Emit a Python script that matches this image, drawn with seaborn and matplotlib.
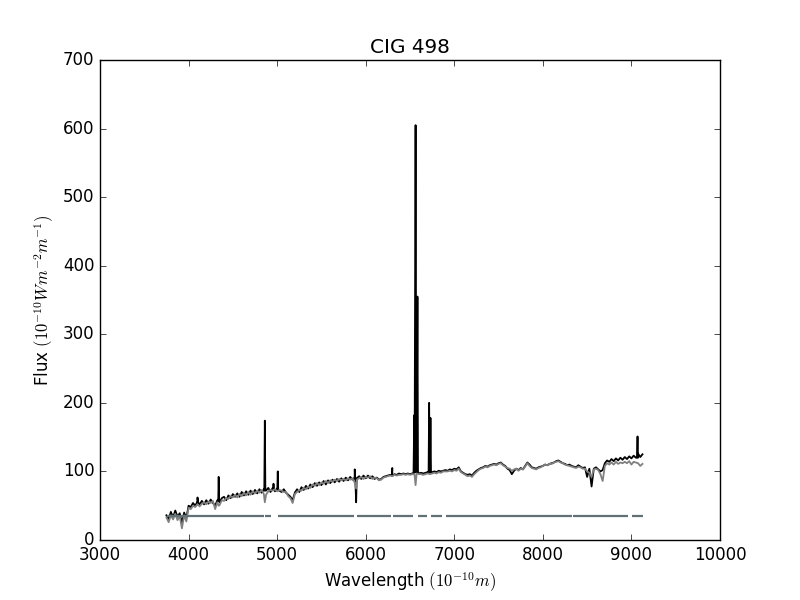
import numpy as np
import pandas as pd
import matplotlib
matplotlib.use('Agg')
import matplotlib.pyplot as plt
import seaborn as sns

plt.style.use('classic')

# continuum grid, 25 A steps from 3750 to 9125
grid_wave = np.arange(3750, 9150, 25)

obs_flux = [
    36, 30, 41, 33, 43, 34, 39, 25, 40, 32, 50, 48, 54, 50, 55, 52,
    57, 52, 58, 53, 59, 54, 50, 58, 55, 61, 63, 58, 65, 61, 67, 63,
    68, 63, 70, 65, 71, 66, 72, 67, 73, 68, 74, 69, 74, 72, 76, 70,
    76, 71, 75, 72, 70, 74, 69, 66, 63, 58, 69, 74, 70, 77, 73, 79,
    75, 81, 77, 83, 79, 84, 80, 86, 81, 87, 83, 88, 84, 89, 85, 90,
    86, 91, 87, 92, 88, 90, 90, 93, 89, 94, 90, 94, 90, 93, 89, 91,
    88, 89, 92, 93, 94, 95, 94, 96, 95, 97, 96, 97, 96, 97, 96, 97,
    98, 98, 97, 98, 97, 98, 99, 98, 99, 100, 99, 101, 100, 101, 102, 101,
    103, 102, 104, 103, 106, 100, 98, 96, 95, 96, 94, 98, 101, 103, 105, 106,
    108, 107, 109, 110, 111, 110, 112, 113, 110, 108, 104, 102, 96, 101, 104, 102,
    105, 103, 108, 113, 110, 106, 105, 104, 106, 107, 108, 110, 109, 111, 112, 113,
    115, 116, 114, 112, 111, 109, 110, 108, 107, 106, 109, 107, 105, 106, 92, 104,
    78, 104, 106, 103, 100, 102, 112, 116, 114, 118, 115, 119, 116, 120, 117, 121,
    118, 122, 119, 123, 120, 126, 121, 125,
]

# fitted model spectrum at the same grid points
model_flux = [
    33, 26, 36, 30, 38, 29, 35, 17, 36, 27, 47, 45, 50, 48, 52, 49,
    53, 55, 52, 56, 54, 57, 45, 55, 51, 58, 57, 61, 60, 64, 62, 66,
    62, 67, 64, 69, 65, 70, 66, 71, 68, 72, 69, 73, 67, 66, 71, 73,
    72, 74, 71, 73, 72, 70, 70, 64, 61, 54, 67, 70, 73, 72, 76, 74,
    78, 76, 81, 79, 83, 80, 84, 82, 86, 83, 87, 85, 88, 86, 89, 87,
    89, 87, 90, 88, 90, 84, 88, 90, 92, 89, 92, 91, 93, 89, 91, 90,
    87, 88, 91, 92, 93, 94, 93, 95, 94, 95, 95, 96, 95, 96, 95, 96,
    96, 97, 96, 96, 95, 96, 97, 96, 97, 98, 97, 99, 98, 100, 100, 100,
    101, 100, 102, 101, 104, 99, 97, 95, 93, 94, 92, 96, 99, 102, 104, 105,
    107, 106, 108, 109, 110, 109, 111, 112, 109, 107, 105, 104, 101, 103, 104, 101,
    104, 103, 107, 112, 108, 105, 104, 103, 105, 106, 108, 110, 109, 111, 111, 113,
    114, 115, 113, 112, 110, 109, 108, 107, 106, 105, 107, 106, 104, 104, 100, 98,
    92, 103, 104, 102, 96, 86, 108, 112, 110, 113, 110, 114, 111, 113, 112, 114,
    112, 115, 110, 114, 113, 112, 108, 111,
]

# emission lines and absorption features in the observed spectrum
obs_line_wave = [4096, 4101, 4106, 4335, 4340, 4345, 4855, 4861, 4867,
                 4955, 4959, 4963, 5002, 5007, 5012,
                 5870, 5876, 5882, 5892, 5898,
                 6295, 6300, 6305,
                 6540, 6548, 6552, 6563, 6570, 6584, 6590,
                 6710, 6716, 6722, 6731, 6737,
                 9062, 9069, 9074]
obs_line_flux = [55, 62, 55, 57, 92, 57, 72, 174, 72,
                 74, 82, 74, 73, 100, 73,
                 90, 103, 90, 55, 90,
                 94, 105, 94,
                 98, 182, 120, 605, 200, 355, 100,
                 99, 200, 110, 178, 99,
                 120, 151, 120]

# absorption features in the model
model_line_wave = [4340, 4861, 5892, 6563]
model_line_flux = [50, 55, 75, 80]

# good-pixel mask segments, drawn at a constant level
mask_start = [3753, 4866, 5013, 5905, 6304, 6593, 6736, 6906, 8339, 9009]
mask_end = [4852, 4930, 5867, 6281, 6529, 6687, 6856, 8325, 8957, 9126]
mask_level = 35

obs = pd.DataFrame({'wave': np.concatenate([grid_wave, obs_line_wave]),
                    'flux': np.concatenate([obs_flux, obs_line_flux])})
obs = obs.sort_values('wave')
model = pd.DataFrame({'wave': np.concatenate([grid_wave, model_line_wave]),
                      'flux': np.concatenate([model_flux, model_line_flux])})
model = model.sort_values('wave')

fig = plt.figure(figsize=(8, 6), dpi=100)
ax = fig.add_subplot(111)
sns.lineplot(data=obs, x='wave', y='flux', color='k', lw=1.3,
             estimator=None, sort=False, ax=ax)
sns.lineplot(data=model, x='wave', y='flux', color='gray', lw=1.3,
             estimator=None, sort=False, ax=ax)
ax.hlines([mask_level] * len(mask_start), mask_start, mask_end,
          colors='#617176', lw=1.6)

ax.set_xlim(3000, 10000)
ax.set_ylim(0, 700)
ax.set_title('CIG 498')
ax.set_xlabel(r'Wavelength $(10^{-10} m)$')
ax.set_ylabel(r'Flux $(10^{-10} W m^{-2} m^{-1})$')
fig.savefig('out.png', dpi=100)
